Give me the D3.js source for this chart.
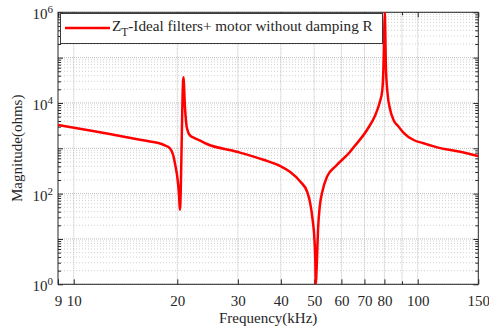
<!DOCTYPE html>
<html>
<head>
<meta charset="utf-8">
<script src="https://cdn.jsdelivr.net/npm/d3@7"></script>
<style>
    body { margin: 0; background: #fff; }
    text { font-family: "Liberation Serif", "Times New Roman", serif; fill: #262626; }
</style>
</head>
<body>
<script>
// frequency (kHz) and |Z_T| (ohms)
const freqs = [
    9, 11.15, 13.63, 16.67, 17.83, 18.4, 19.06, 19.4, 19.7, 20.1, 20.25, 20.35,
    20.84, 21.05, 21.3, 21.8, 22.3, 23.3, 24.3, 29.8, 35.6, 40, 42.6, 45.6,
    47.7, 48.7, 49.5, 50.1, 50.4, 50.5, 50.9, 51.3, 51.9, 52.8, 54.5,
    57.8, 63.6, 65.1, 71.2, 75.3, 77.4, 78.9, 79.5, 79.9, 80.2, 80.5,
    80.8, 81.7, 83.2, 85.1, 88, 91, 97.3, 104, 113.7, 133, 150
];
const magnitudes = [
    3270, 2470, 1870, 1413, 1277, 1165, 990, 760, 457, 169, 86, 44,
    36800, 8280, 3000, 1900, 1720, 1480, 1260, 841, 560, 400, 300, 183,
    110, 61, 26, 9.5, 2.9, 1, 2.9, 15.8, 51.5, 110, 237,
    407, 841, 1050, 2535, 5430, 9840, 19300, 63000, 340000, 1000000, 340000,
    63000, 16400, 7000, 4170, 3000, 2200, 1525, 1290, 1050, 841, 676
];

const xTickValues = [9, 10, 20, 30, 40, 50, 60, 70, 80, 100, 150];
const xGridValues = [10, 20, 30, 40, 50, 60, 70, 80, 90, 100];
const yLabelExponents = [0, 2, 4, 6];
const legendMain = "Z";
const legendSub = "T";
const legendRest = "-Ideal filters+ motor without damping R";

const W = 489, H = 332;
const plot = { left: 58, right: 478.3, top: 12.3, bottom: 284.3 };
const axisColor = "#262626";

const svg = d3.select("body").append("svg")
    .attr("width", W)
    .attr("height", H)
    .attr("viewBox", [0, 0, W, H]);

// scales
const x = d3.scaleLog().domain([9, 150]).range([plot.left, plot.right]);
const y = d3.scaleLog().domain([1, 1e6]).range([plot.bottom, plot.top]);

const majorY = y.ticks(60).filter(d => Math.abs(Math.log10(d) - Math.round(Math.log10(d))) < 1e-9);
const minorY = y.ticks(60).filter(d => !majorY.includes(d));

// grid
const grid = svg.append("g");
grid.selectAll(".ymin")
    .data(minorY)
    .join("line")
    .attr("x1", plot.left).attr("x2", plot.right)
    .attr("y1", d => y(d)).attr("y2", d => y(d))
    .attr("stroke", "#d0d0d0")
    .attr("stroke-dasharray", "1,2");
grid.selectAll(".ymaj")
    .data(majorY)
    .join("line")
    .attr("x1", plot.left).attr("x2", plot.right)
    .attr("y1", d => y(d)).attr("y2", d => y(d))
    .attr("stroke", "#bcbcbc")
    .attr("stroke-dasharray", "1,1");
grid.selectAll(".xg")
    .data(xGridValues)
    .join("line")
    .attr("x1", d => x(d)).attr("x2", d => x(d))
    .attr("y1", plot.top).attr("y2", plot.bottom)
    .attr("stroke", "#bcbcbc")
    .attr("stroke-dasharray", "1,1");

// axes, ticks pointing inward
function styleAxis(g) {
    g.selectAll("line").attr("stroke", axisColor);
    g.select(".domain").remove();
}

svg.append("g")
    .attr("transform", `translate(0,${plot.bottom})`)
    .call(d3.axisBottom(x).tickValues(xTickValues).tickFormat(d3.format("d"))
        .tickSizeInner(-5).tickSizeOuter(0).tickPadding(11))
    .call(styleAxis)
    .call(g => g.selectAll("text")
        .attr("font-size", 15)
        .attr("font-family", "Liberation Serif, serif")
        .attr("fill", axisColor));

svg.append("g")
    .attr("transform", `translate(0,${plot.top})`)
    .call(d3.axisTop(x).tickValues(xTickValues).tickFormat("").tickSizeInner(-5).tickSizeOuter(0))
    .call(styleAxis);

svg.append("g")
    .attr("transform", `translate(0,${plot.top})`)
    .call(d3.axisTop(x).tickValues([90]).tickFormat("").tickSizeInner(-3).tickSizeOuter(0))
    .call(styleAxis);
svg.append("g")
    .attr("transform", `translate(0,${plot.bottom})`)
    .call(d3.axisBottom(x).tickValues([90]).tickFormat("").tickSizeInner(-3).tickSizeOuter(0))
    .call(styleAxis);

[[d3.axisLeft, plot.left], [d3.axisRight, plot.right]].forEach(([axisFn, xpos]) => {
    svg.append("g")
        .attr("transform", `translate(${xpos},0)`)
        .call(axisFn(y).tickValues(majorY).tickFormat("").tickSizeInner(-5).tickSizeOuter(0))
        .call(styleAxis);
    svg.append("g")
        .attr("transform", `translate(${xpos},0)`)
        .call(axisFn(y).tickValues(minorY).tickFormat("").tickSizeInner(-3).tickSizeOuter(0))
        .call(styleAxis);
});

// y labels 10^n
const yLabels = svg.append("g")
    .selectAll("text")
    .data(yLabelExponents)
    .join("text")
    .attr("x", plot.left - 5)
    .attr("y", d => y(Math.pow(10, d)) + 7)
    .attr("text-anchor", "end")
    .attr("font-size", 15);
yLabels.append("tspan").text("10");
yLabels.append("tspan")
    .attr("dy", -6)
    .attr("font-size", 11)
    .text(d => d);

// frame
svg.append("rect")
    .attr("x", plot.left).attr("y", plot.top)
    .attr("width", plot.right - plot.left)
    .attr("height", plot.bottom - plot.top)
    .attr("fill", "none")
    .attr("stroke", axisColor)
    .attr("stroke-width", 1);

// curve
svg.append("clipPath").attr("id", "clip")
    .append("rect")
    .attr("x", plot.left).attr("y", plot.top)
    .attr("width", plot.right - plot.left)
    .attr("height", plot.bottom - plot.top);

const points = freqs.map((f, i) => ({ f: f, m: magnitudes[i] }));
const line = d3.line()
    .curve(d3.curveMonotoneX)
    .x(d => x(d.f))
    .y(d => y(d.m));

svg.append("path")
    .datum(points)
    .attr("clip-path", "url(#clip)")
    .attr("d", line)
    .attr("fill", "none")
    .attr("stroke", "#ff0000")
    .attr("stroke-width", 2.5);

// legend
const legend = svg.append("g");
legend.append("rect")
    .attr("x", 60.5).attr("y", 13.5)
    .attr("width", 322).attr("height", 30)
    .attr("fill", "#fff")
    .attr("stroke", "#3a3a3a");
legend.append("line")
    .attr("x1", 65).attr("x2", 110)
    .attr("y1", 28).attr("y2", 28)
    .attr("stroke", "#ff0000")
    .attr("stroke-width", 2.5);
const legendText = legend.append("text")
    .attr("x", 112).attr("y", 31)
    .attr("font-size", 15.2);
legendText.append("tspan").text(legendMain);
legendText.append("tspan").attr("dy", 5).attr("font-size", 11.5).text(legendSub);
legendText.append("tspan").attr("dy", -5).text(legendRest);

// axis titles
svg.append("text")
    .attr("x", (plot.left + plot.right) / 2)
    .attr("y", 323)
    .attr("text-anchor", "middle")
    .attr("font-size", 15)
    .text("Frequency(kHz)");

svg.append("text")
    .attr("transform", `translate(22,${(plot.top + plot.bottom) / 2}) rotate(-90)`)
    .attr("text-anchor", "middle")
    .attr("font-size", 15)
    .text("Magnitude(ohms)");
</script>
</body>
</html>
